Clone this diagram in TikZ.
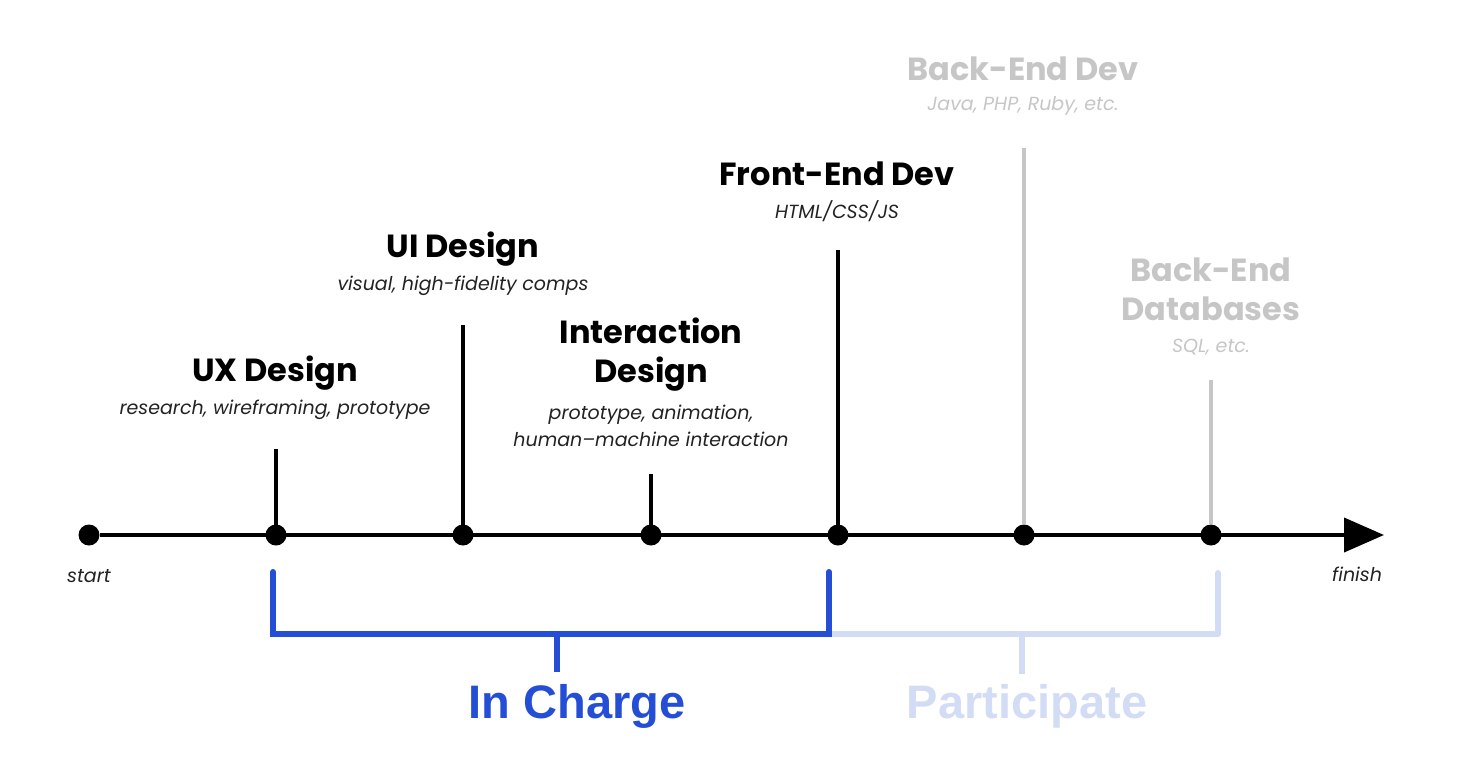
\documentclass[tikz,border=0pt]{standalone}
\usepackage{fontspec}
\setmainfont{Poppins}
\newfontfamily\blockfont{Liberation Sans}
\usetikzlibrary{arrows.meta}
\definecolor{incharge}{HTML}{254ED6}
\definecolor{partic}{HTML}{D3DCF5}
\definecolor{lightgrey}{HTML}{C6C6C6}
\definecolor{subgrey}{HTML}{222222}
\begin{document}
\begin{tikzpicture}[x=0.5pt,y=-0.5pt,
  dot/.style={circle,fill=black,inner sep=0pt,minimum size=10.5pt},
  gdot/.style={circle,fill=black,inner sep=0pt,minimum size=10.5pt},
  stem/.style={line width=1.6pt,black},
  gstem/.style={line width=1.6pt,lightgrey},
  title/.style={font=\fontsize{16}{19.5}\selectfont\bfseries,align=center,inner sep=0pt},
  sub/.style={font=\fontsize{9.5}{13.5}\selectfont\itshape,align=center,inner sep=0pt,text=subgrey},
  brk/.style={line width=3pt,incharge},
  pbrk/.style={line width=3pt,partic},
  big/.style={font=\blockfont\fontsize{23.5}{28}\selectfont\bfseries,inner sep=0pt}]
\useasboundingbox (0,0) rectangle (1462,782);
% axis
\node[dot] (d0) at (89,535) {};
\node[dot] (d1) at (276,535) {};
\node[dot] (d2) at (463,535) {};
\node[dot] (d3) at (651,535) {};
\node[dot] (d4) at (838,535) {};
\node[gdot] (d5) at (1024,535) {};
\node[gdot] (d6) at (1211,535) {};
\coordinate (end) at (1384,535);
\draw[line width=2pt,-{Triangle[length=20pt,width=17pt]}] (d0) -- (end);
% stems
\coordinate (t1) at (276,449);
\coordinate (t2) at (463,325);
\coordinate (t3) at (651,474);
\coordinate (t4) at (838,250);
\coordinate (t5) at (1024,148);
\coordinate (t6) at (1211,380);
\draw[stem] (d1.center) -- (t1);
\draw[stem] (d2.center) -- (t2);
\draw[stem] (d3.center) -- (t3);
\draw[stem] (d4.center) -- (t4);
\draw[gstem] (d5.north) -- (t5);
\draw[gstem] (d6.north) -- (t6);
% labels
\node[title] (ux) at (275,373) {UX Design};
\node[sub] (uxs) at (275,410) {research, wireframing, prototype};
\node[title] (ui) at (463,249) {UI Design};
\node[sub] (uis) at (463,286) {visual, high-fidelity comps};
\node[title] (ix) at (651,355) {Interaction\\Design};
\node[sub] (ixs) at (651,426) {prototype, animation,\\human--machine interaction};
\node[title] (fe) at (837,174) {Front-End Dev};
\node[sub] (fes) at (837,211) {HTML/CSS/JS};
\node[title,text=lightgrey] (be) at (1023,69) {Back-End Dev};
\node[sub,text=lightgrey] (bes) at (1023,106) {Java, PHP, Ruby, etc.};
\node[title,text=lightgrey] (db) at (1211,289) {Back-End\\Databases};
\node[sub,text=lightgrey] (dbs) at (1211,347) {SQL, etc.};
\node[sub] (start) at (89,576) {start};
\node[sub] (finish) at (1357,574) {finish};
% brackets
\coordinate (a1) at (273,573);
\coordinate (a2) at (273,634);
\coordinate (a3) at (829,634);
\coordinate (a4) at (829,573);
\coordinate (a5) at (557,634);
\coordinate (a6) at (557,672);
\coordinate (p1) at (1218,573);
\coordinate (p2) at (1218,634);
\coordinate (p5) at (1022,634);
\coordinate (p6) at (1022,674);
\draw[pbrk] (a3) -- (p2);
\draw[pbrk,line cap=round] (p1) -- (p2);
\draw[pbrk] (p5) -- (p6);
\draw[brk] (a1) -- (a2) -- (a3) -- (a4);
\draw[brk,line cap=round] (a1) -- ++(0,-1);
\draw[brk,line cap=round] (a4) -- ++(0,-1);
\draw[brk] (a5) -- (a6);
\node[big,text=incharge] (ic) at (577,706) {In Charge};
\node[big,text=partic] (pa) at (1027,706) {Participate};
\end{tikzpicture}
\end{document}
